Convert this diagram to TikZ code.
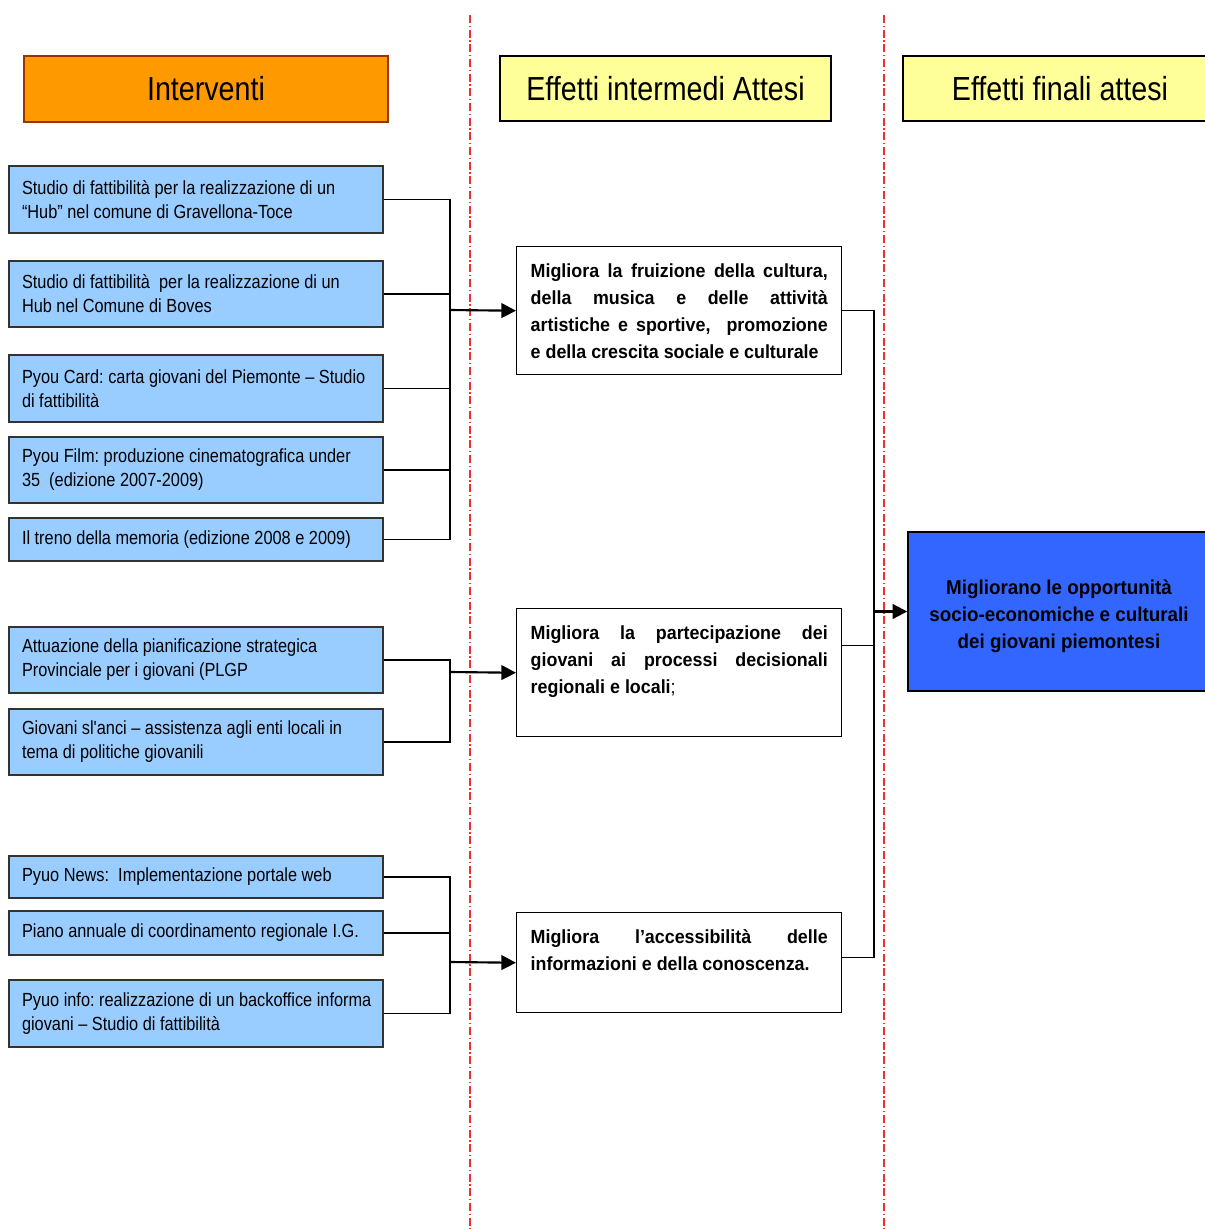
\documentclass[tikz,border=0pt]{standalone}
\usepackage{fontspec}
\setmainfont{Liberation Sans}
\newfontfamily\regf{Liberation Sans}[FakeStretch=0.86]
\newfontfamily\bldf{Liberation Sans}[FakeStretch=0.94]
\usetikzlibrary{arrows.meta}
\definecolor{hdrorange}{HTML}{FF9900}
\definecolor{hdrbrown}{HTML}{993300}
\definecolor{hdryellow}{HTML}{FFFF99}
\definecolor{lightblue}{HTML}{99CCFF}
\definecolor{strongblue}{HTML}{3366FF}
\definecolor{boxgray}{HTML}{333333}
\definecolor{seprred}{HTML}{F03030}
\frenchspacing
\begin{document}
\begin{tikzpicture}[x=0.75pt,y=-0.75pt,
  hdr/.style={draw, line width=1.8pt, minimum height=49.5pt, inner sep=0pt, font=\regf\fontsize{25pt}{30pt}\selectfont},
  intbox/.style={draw=boxgray, fill=lightblue, line width=1.1pt, minimum width=280.5pt, text width=261pt, inner xsep=9.75pt, inner ysep=0pt, align=flush left, font=\regf\fontsize{14.25pt}{18pt}\selectfont},
  midbox/.style={draw, line width=1.1pt, anchor=north west, inner xsep=10.5pt, inner ysep=0pt, font=\bldf\bfseries\fontsize{14.25pt}{20.25pt}\selectfont},
  finbox/.style={draw, fill=strongblue, line width=1.1pt, minimum width=226.5pt, minimum height=119.25pt, align=center, font=\bldf\bfseries\fontsize{15pt}{20.25pt}\selectfont},
  conn/.style={line width=0.9pt},
  arr/.style={line width=1.6pt, -{Triangle[length=11pt,width=11pt]}},
  sepline/.style={seprred, line width=0.9pt, dash pattern=on 6pt off 2pt on 1pt off 2pt}
]
\useasboundingbox (0,0) rectangle (1205,1229);

% separators
\coordinate (s1t) at (470,15); \coordinate (s1b) at (470,1229);
\coordinate (s2t) at (884,15); \coordinate (s2b) at (884,1229);
\draw[sepline] (s1t) -- (s1b);
\draw[sepline] (s2t) -- (s2b);

% headers
\node[hdr, fill=hdrorange, draw=hdrbrown, minimum width=273pt] (h1) at (206,89) {Interventi};
\node[hdr, fill=hdryellow, minimum width=248.25pt, minimum height=48.75pt] (h2) at (665.5,88.5) {Effetti intermedi Attesi};
\node[hdr, fill=hdryellow, minimum width=235.5pt, minimum height=48.75pt] (h3) at (1060,88.5) {Effetti finali attesi};

% interventions
\node[intbox, minimum height=50.25pt] (b1) at (196,199.5) {Studio di fattibilità per la realizzazione di un\\“Hub” nel comune di Gravellona-Toce};
\node[intbox, minimum height=49.5pt] (b2) at (196,294) {Studio di fattibilità \ per la realizzazione di un\\Hub nel Comune di Boves};
\node[intbox, minimum height=50.25pt] (b3) at (196,388.5) {\mbox{Pyou Card: carta giovani del Piemonte – Studio}\\di fattibilità};
\node[intbox, minimum height=49.5pt] (b4) at (196,470) {Pyou Film: produzione cinematografica under\\35 \ (edizione 2007-2009)};
\node[intbox, minimum height=32.25pt] (b5) at (196,539.5) {Il treno della memoria (edizione 2008 e 2009)};
\node[intbox, minimum height=49.5pt] (b6) at (196,660) {Attuazione della pianificazione strategica\\Provinciale per i giovani (PLGP};
\node[intbox, minimum height=49.5pt] (b7) at (196,742) {\mbox{Giovani sl'anci – assistenza agli enti locali in}\\tema di politiche giovanili};
\node[intbox, minimum height=31.5pt] (b8) at (196,877) {Pyuo News: \ Implementazione portale web};
\node[intbox, minimum height=33pt] (b9) at (196,933) {Piano annuale di coordinamento regionale I.G.};
\node[intbox, minimum height=50.25pt] (b10) at (196,1013.5) {\mbox{Pyuo info: realizzazione di un backoffice informa}\\giovani – Studio di fattibilità};

% intermediate effects
\node[midbox] (mA) at (516,246) {\parbox[c][96pt][t]{222.75pt}{\vspace*{12.5pt}Migliora la fruizione della cultura,\linebreak della musica e delle attività\linebreak artistiche e sportive, \ promozione\linebreak e della crescita sociale e culturale}};
\node[midbox] (mB) at (516,608) {\parbox[c][96pt][t]{222.75pt}{\vspace*{12.5pt}Migliora la partecipazione dei\linebreak giovani ai processi decisionali\linebreak regionali e locali{\mdseries;}}};
\node[midbox] (mC) at (516,912) {\parbox[c][75pt][t]{222.75pt}{\vspace*{12.5pt}Migliora l’accessibilità delle\linebreak informazioni e della conoscenza.}};

% final effect
\node[finbox] (fin) at (1059,611.5) {\rule{0pt}{18pt}Migliorano le opportunità\\socio-economiche e culturali\\dei giovani piemontesi};

% junctions
\coordinate (j1) at (450,310);
\coordinate (j2) at (450,672);
\coordinate (j3) at (450,962);
\coordinate (k) at (874,611.5);

% group 1
\foreach \b in {b1,b2,b3,b4,b5} \draw[conn] (\b.east) -| (j1);
\draw[arr] (j1) -- (mA.west);
% group 2
\foreach \b in {b6,b7} \draw[conn] (\b.east) -| (j2);
\draw[arr] (j2) -- (mB.west);
% group 3
\foreach \b in {b8,b9,b10} \draw[conn] (\b.east) -| (j3);
\draw[arr] (j3) -- (mC.west);

% to final
\draw[conn] (mA.east) -| (k);
\draw[conn] ([yshift=20.25pt]mB.east) -| (k);
\draw[conn] ([yshift=3.75pt]mC.east) -| (k);
\draw[arr] (k) -- (fin.west);
\end{tikzpicture}
\end{document}
